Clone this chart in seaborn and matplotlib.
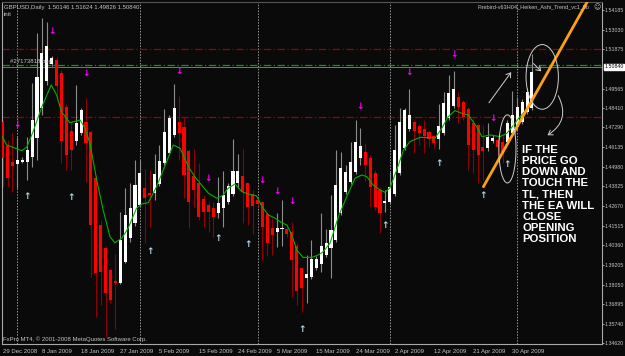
import matplotlib
matplotlib.use("Agg")
import matplotlib.pyplot as plt
import seaborn as sns
import numpy as np
import pandas as pd
from matplotlib.patches import Ellipse, FancyArrowPatch

# ---------------- data ----------------
opens = [1.4762,1.4619,1.4527,1.4514,1.4527,1.4527,1.4556,1.4668,1.4844,1.5003,
         1.5101,1.5125,1.5048,1.4850,1.4709,1.4650,1.4697,1.4762,1.4703,1.4430,
         1.4155,1.4018,1.3891,1.3826,1.3816,1.3940,1.4077,1.4165,1.4273,1.4371,
         1.4345,1.4341,1.4396,1.4518,1.4580,1.4684,1.4762,1.4733,1.4592,1.4443,
         1.4400,1.4308,1.4273,1.4253,1.4227,1.4257,1.4292,1.4336,1.4404,1.4443,
         1.4400,1.4336,1.4302,1.4292,1.4220,1.4136,1.4116,1.4129,1.4130,1.4116,
         1.4034,1.3904,1.3842,1.3851,1.3904,1.3926,1.3979,1.4018,1.4067,1.4227,
         1.4351,1.4410,1.4468,1.4551,1.4586,1.4551,1.4462,1.4361,1.4287,1.4292,
         1.4336,1.4462,1.4609,1.4719,1.4762,1.4737,1.4719,1.4700,1.4678,1.4659,
         1.4697,1.4782,1.4856,1.4905,1.4876,1.4835,1.4753,1.4743,1.4612,1.4606,
         1.4649,1.4654,1.4645,1.4645,1.4697,1.4729,1.4762,1.4821,1.4841]
closes = [1.4547,1.4430,1.4502,1.4537,1.4537,1.4596,1.4772,1.5025,1.5164,1.5207,
          1.5138,1.4974,1.4649,1.4566,1.4596,1.4754,1.4831,1.4639,1.4155,1.3871,
          1.3881,1.3756,1.3714,1.3813,1.4067,1.4214,1.4253,1.4390,1.4462,1.4312,
          1.4331,1.4453,1.4533,1.4703,1.4782,1.4841,1.4697,1.4449,1.4292,1.4361,
          1.4204,1.4233,1.4233,1.4204,1.4283,1.4331,1.4384,1.4472,1.4474,1.4351,
          1.4259,1.4267,1.4279,1.4145,1.4051,1.4096,1.4139,1.4135,1.4102,1.3949,
          1.3767,1.3783,1.3867,1.3955,1.3954,1.4032,1.4048,1.4126,1.4390,1.4488,
          1.4468,1.4527,1.4641,1.4619,1.4508,1.4380,1.4263,1.4224,1.4296,1.4377,
          1.4596,1.4762,1.4831,1.4801,1.4707,1.4697,1.4680,1.4660,1.4635,1.4737,
          1.4874,1.4932,1.4952,1.4847,1.4791,1.4625,1.4596,1.4566,1.4592,1.4674,
          1.4668,1.4615,1.4586,1.4753,1.4801,1.4850,1.4880,1.4938,1.5056]
highs = [1.4772,1.4654,1.4694,1.4674,1.4555,1.4674,1.4988,1.5283,1.5370,1.5346,
         1.5148,1.5144,1.5066,1.4866,1.4754,1.4978,1.4843,1.4903,1.4713,1.4443,
         1.4184,1.4032,1.3903,1.3985,1.4233,1.4373,1.4402,1.4537,1.4537,1.4484,
         1.4478,1.4572,1.4625,1.4837,1.4801,1.4984,1.4913,1.4791,1.4602,1.4602,
         1.4519,1.4331,1.4292,1.4292,1.4439,1.4472,1.4402,1.4659,1.4571,1.4600,
         1.4402,1.4361,1.4314,1.4296,1.4232,1.4195,1.4224,1.4302,1.4145,1.4175,
         1.4048,1.3910,1.3979,1.4067,1.3973,1.4227,1.4130,1.4331,1.4596,1.4586,
         1.4508,1.4645,1.4772,1.4723,1.4635,1.4566,1.4478,1.4380,1.4361,1.4468,
         1.4743,1.4841,1.4843,1.4952,1.4772,1.4749,1.4772,1.4713,1.4684,1.4864,
         1.4938,1.5036,1.5060,1.4938,1.4889,1.4848,1.4784,1.4754,1.4743,1.4756,
         1.4684,1.4684,1.4684,1.4772,1.4944,1.4909,1.4895,1.4960,1.5162]
lows = [1.4380,1.4378,1.4351,1.4371,1.4519,1.4419,1.4498,1.4537,1.4801,1.4978,
        1.5089,1.4889,1.4519,1.4478,1.4478,1.4625,1.4684,1.4410,1.3851,1.3616,
        1.3685,1.3499,1.3697,1.3544,1.3809,1.3932,1.4057,1.4149,1.4261,1.4048,
        1.4145,1.4302,1.4384,1.4508,1.4566,1.4672,1.4537,1.4312,1.4138,1.4263,
        1.4184,1.4145,1.4116,1.4086,1.4195,1.4145,1.4279,1.4326,1.4371,1.4169,
        1.4155,1.4102,1.4267,1.3949,1.3975,1.3979,1.4028,1.4032,1.4086,1.3734,
        1.3685,1.3646,1.3695,1.3838,1.3891,1.3881,1.3967,1.3842,1.4055,1.4214,
        1.4337,1.4396,1.4455,1.4508,1.4415,1.4263,1.4243,1.4106,1.4233,1.4279,
        1.4326,1.4449,1.4596,1.4707,1.4576,1.4625,1.4580,1.4612,1.4606,1.4600,
        1.4684,1.4772,1.4843,1.4753,1.4772,1.4478,1.4461,1.4400,1.4419,1.4590,
        1.4637,1.4566,1.4518,1.4631,1.4684,1.4713,1.4749,1.4807,1.4831]

ma_idx = [-0.6,0.8,3.9,4.9,6.2,8.0,9.9,11.0,12.0,13.7,15.8,16.8,17.8,19.2,20.5,21.9,22.9,24.3,25.6,27.3,
          28.4,29.7,31.4,33.1,34.8,36.2,37.9,39.2,40.3,42.0,43.7,45.0,46.0,47.4,48.8,50.1,51.8,52.9,54.2,55.6,
          56.9,58.0,59.0,60.0,61.3,63.1,64.4,65.4,66.8,68.5,70.2,71.9,73.3,74.3,75.6,77.0,78.0,79.0,80.4,81.8,
          83.1,85.2,87.2,88.2,89.6,90.9,92.3,93.7,95.0,96.7,97.8,99.5,101.5,102.9,103.9,105.3,106.8,108.2]
ma_val = [1.4703,1.4625,1.4592,1.4612,1.4703,1.4850,1.4978,1.4919,1.4821,1.4756,
          1.4772,1.4723,1.4635,1.4419,1.4243,1.4086,1.4051,1.4077,1.4136,1.4253,
          1.4279,1.4286,1.4380,1.4502,1.4625,1.4606,1.4498,1.4439,1.4400,1.4341,
          1.4312,1.4331,1.4371,1.4396,1.4351,1.4337,1.4326,1.4263,1.4214,1.4195,
          1.4169,1.4155,1.4096,1.4008,1.3965,1.3965,1.3979,1.3998,1.4048,1.4204,
          1.4321,1.4430,1.4449,1.4439,1.4390,1.4361,1.4347,1.4371,1.4478,1.4596,
          1.4645,1.4670,1.4668,1.4665,1.4723,1.4791,1.4827,1.4811,1.4801,1.4733,
          1.4674,1.4684,1.4674,1.4694,1.4729,1.4782,1.4831,1.4880]

down_idx = [3, 10, 17, 36, 42, 53, 56, 59, 73, 83, 92, 100]
down_price = [1.4743, 1.5289, 1.5046, 1.5056, 1.4430, 1.4419, 1.4351, 1.4292, 1.4850, 1.5052, 1.5158, 1.4778]
up_idx = [5, 14, 30, 44, 50, 61, 78, 89, 98, 103]
up_price = [1.4321, 1.4318, 1.3998, 1.4077, 1.4038, 1.3542, 1.4155, 1.4514, 1.4331, 1.4508]

month_sep_idx = [3, 28, 52, 79, 105]
date_tick_idx = [0, 8, 16, 24, 32, 40, 48, 56, 64, 72, 80, 88, 96, 104]
date_labels = ["29 Dec 2008", "8 Jan 2009", "18 Jan 2009", "27 Jan 2009", "5 Feb 2009",
               "15 Feb 2009", "24 Feb 2009", "5 Mar 2009", "15 Mar 2009", "24 Mar 2009",
               "2 Apr 2009", "12 Apr 2009", "21 Apr 2009", "30 Apr 2009"]
price_ticks = [1.54185, 1.53030, 1.51875, 1.49565, 1.48410, 1.47290, 1.46135, 1.44980,
               1.43825, 1.42670, 1.41515, 1.40360, 1.39205, 1.38050, 1.36895, 1.35740, 1.34620]
current_price = 1.50840
red_levels = [1.5190, 1.4791]
green_level = 1.5095

trend_idx = [98.1, 119.5]
trend_price = [1.4380, 1.5477]

# ---------------- style ----------------
sns.set_style("dark")
BG = "#0a0a0a"
GREY = "#c4c4c4"
SMALL = "Liberation Sans"
FS = 4.3
FS_R = 3.8

fig = plt.figure(figsize=(6.25, 3.56), dpi=100, facecolor=BG)
ax = fig.add_axes([2 / 625, 12 / 356, 600 / 625, 342 / 356])
ax.set_facecolor(BG)
ax.grid(False)

n = len(opens)
idx = np.arange(n)
o = np.array(opens); c = np.array(closes)
up = c >= o
body_bottom = np.minimum(o, c)
body_h = np.maximum(np.abs(c - o), 0.0004)
wick_col = np.where(up, "#8c8c8c", "#900000")
body_col = np.where(up, "#ffffff", "#ff0000")

# month separators
for m in month_sep_idx:
    ax.axvline(m, color="#9a9a9a", lw=0.7, ls=(0, (1.5, 1.5)), zorder=1)

# level lines
for lv in red_levels:
    ax.axhline(lv, color="#a00000", lw=0.9, ls=(0, (6, 2, 1, 2)), zorder=1)
ax.axhline(green_level, color="#00a000", lw=0.9, ls=(0, (6, 2, 1, 2)), zorder=1)
ax.axhline(current_price, color="#777777", lw=0.7, zorder=1)

# candles
ax.vlines(idx, lows, highs, colors=wick_col, lw=0.8, zorder=2)
ax.bar(idx, body_h, bottom=body_bottom, width=0.62, color=body_col, linewidth=0, zorder=3)

# moving average
sns.lineplot(x=ma_idx, y=ma_val, ax=ax, color="#00b000", lw=0.8, sort=False,
             estimator=None, legend=False, zorder=4)

# signal arrows
for i, p in zip(down_idx, down_price):
    ax.text(i, p, "\u2193", color="#ff00ff", fontsize=6.5, fontweight="bold",
            ha="center", va="center", family="DejaVu Sans", zorder=5)
for i, p in zip(up_idx, up_price):
    ax.text(i, p, "\u2191", color="#b8d8e8", fontsize=6.5, fontweight="bold",
            ha="center", va="center", family="DejaVu Sans", zorder=5)

# hand-drawn trend line
sns.lineplot(x=trend_idx, y=trend_price, ax=ax, color="#ffa010", lw=2.0, sort=False,
             estimator=None, legend=False, zorder=6)

# hand-drawn ellipses and arrows
ax.add_patch(Ellipse((110.1, 1.5025), 6.6, 0.0380, fill=False, ec="#cfcfcf", lw=0.7, zorder=6))
ax.add_patch(Ellipse((103.0, 1.4602), 3.5, 0.0400, fill=False, ec="#cfcfcf", lw=0.7, zorder=6))
ax.add_patch(FancyArrowPatch((98.9, 1.4860), (104.1, 1.5066), arrowstyle="->,head_length=3,head_width=2",
                             color="#d0d0d0", lw=0.7, zorder=6))
ax.add_patch(FancyArrowPatch((107.9, 1.5115), (110.3, 1.5046), arrowstyle="->,head_length=3,head_width=2",
                             color="#d0d0d0", lw=0.7, zorder=6))
ax.add_patch(FancyArrowPatch((113.1, 1.4929), (110.7, 1.4674), arrowstyle="->,head_length=3,head_width=2",
                             connectionstyle="arc3,rad=-0.5", color="#d0d0d0", lw=0.7, zorder=6))

ax.text(106.0, 1.4625, "IF THE\nPRICE GO\nDOWN AND\nTOUCH THE\nTL, THEN\nTHE EA WILL\nCLOSE\nOPENING\nPOSITION",
        color="white", fontsize=8.2, fontweight="bold", family="Liberation Sans",
        ha="left", va="top", linespacing=1.14, zorder=7)

ax.text(1.5, 1.5118, "#27173818 buy", color=GREY, fontsize=FS, family=SMALL,
        ha="left", va="center", zorder=7)

# axes limits
ax.set_xlim(-0.14, 122.3)
ax.set_ylim(1.3456, 1.5465)

# right price axis
ax.yaxis.tick_right()
ax.set_yticks(price_ticks)
ax.set_yticklabels([f"{t:.5f}" for t in price_ticks], color=GREY, fontsize=FS_R, family=SMALL)
ax.tick_params(axis="y", length=1.5, width=0.6, color=GREY, pad=0.4, direction="out")
ax.text(1.004, current_price, f"{current_price:.5f}", transform=ax.get_yaxis_transform(),
        color="black", fontsize=FS_R, family=SMALL, ha="left", va="center",
        bbox=dict(boxstyle="square,pad=0.1", fc="white", ec="white"), zorder=8, clip_on=False)

# bottom date axis
ax.set_xticks(date_tick_idx)
ax.set_xticklabels(date_labels, color=GREY, fontsize=FS, family=SMALL, ha="left")
ax.tick_params(axis="x", length=3, width=0.6, color=GREY, pad=0.5, direction="out")

for s in ax.spines.values():
    s.set_color("#a8a8a8")
    s.set_linewidth(0.8)
ax.spines["top"].set_color("#555555")

# header texts
fig.text(4 / 625, 1 - 7 / 356, "GBPUSD,Daily  1.50146 1.51624 1.49826 1.50840", color=GREY,
         fontsize=FS, family=SMALL, ha="left", va="center")
fig.text(4 / 625, 1 - 14 / 356, "init", color=GREY, fontsize=FS, family=SMALL, ha="left", va="center")
fig.text(590 / 625, 1 - 7 / 356, "Firebird-v63H04_Heiken_Ashi_Trend_vc1_5b", color=GREY,
         fontsize=4.0, family=SMALL, ha="right", va="center")
fig.text(593 / 625, 1 - 7 / 356, "\u263a", color=GREY,
         fontsize=5, family="DejaVu Sans", ha="left", va="center")
fig.text(3 / 625, 1 - 339 / 356, "FxPro MT4, \u00a9 2001-2008 MetaQuotes Software Corp.", color=GREY,
         fontsize=FS, family=SMALL, ha="left", va="center")

fig.savefig("out.png", dpi=100, facecolor=BG)
